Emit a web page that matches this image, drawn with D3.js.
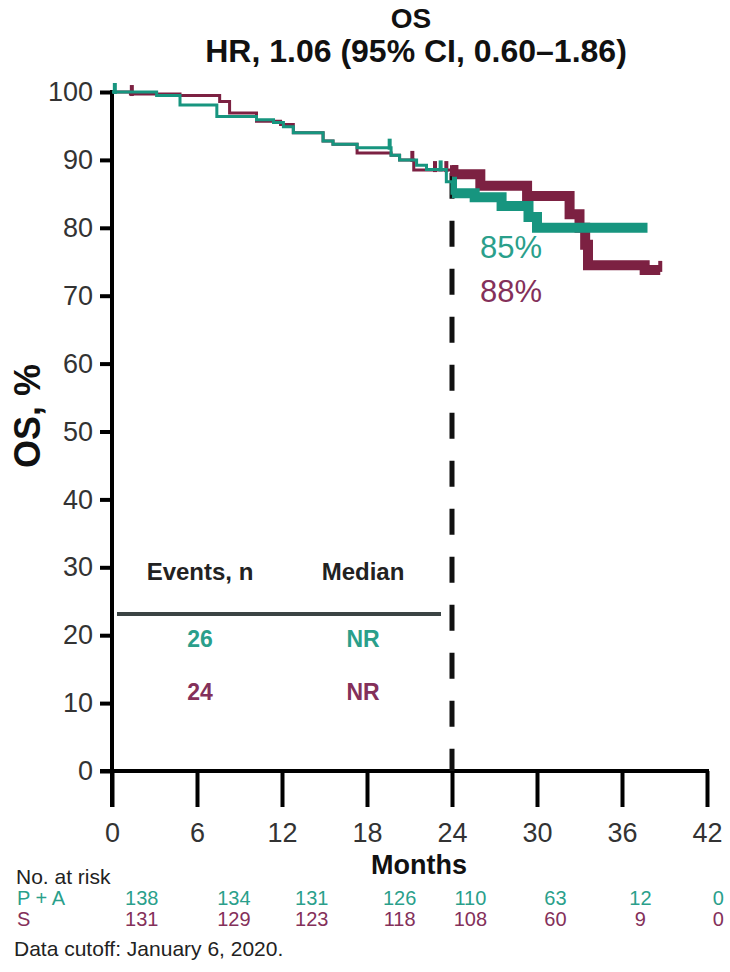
<!DOCTYPE html>
<html>
<head>
<meta charset="utf-8">
<script src="https://cdn.jsdelivr.net/npm/d3@7"></script>
<style>
  body { margin: 0; background: #fff; }
  svg { font-family: "Liberation Sans", Arial, sans-serif; display: block; }
</style>
</head>
<body>
<script>
// OS Kaplan-Meier, P + A vs S

const monthTicks = [0, 6, 12, 18, 24, 30, 36, 42];
const pctTicks = [0, 10, 20, 30, 40, 50, 60, 70, 80, 90, 100];

// step points: [month, OS %] (value holds from that month on)
const survPA = [
  [0, 100], [3.15, 99.5], [4.8, 98.1], [7.4, 96.4], [10.2, 95.9], [11.4, 95.5],
  [12.1, 94.9], [12.8, 94.0], [14.9, 92.8], [15.6, 92.3], [17.3, 91.8],
  [19.7, 90.7], [20.3, 90.0], [21.5, 89.2], [22.2, 88.6], [23.6, 86.8],
  [24.0, 85.1], [25.6, 84.5], [27.5, 83.2], [29.4, 81.6], [30.0, 80.0], [37.8, 80.0]
];
const survS = [
  [0, 100], [1.3, 99.7], [4.8, 99.5], [7.6, 98.6], [8.3, 96.9], [10.2, 95.7],
  [11.9, 95.2], [12.8, 94.0], [14.9, 92.8], [15.6, 92.3], [17.3, 91.0],
  [19.7, 90.7], [20.3, 90.0], [21.3, 88.5], [24.1, 87.9], [26.0, 86.2],
  [29.3, 84.7], [32.3, 82.0], [33.0, 80.0], [33.4, 77.5], [33.6, 74.5],
  [37.6, 73.8], [38.7, 73.8]
];
const censorPA = [[0.2, 100], [19.6, 91.8], [23.2, 88.6]];
const censorS = [[1.4, 99.7], [21.2, 90.0], [22.8, 88.5], [23.6, 88.5], [24.0, 87.9], [38.7, 73.8]];

const landmark = 24;
const landmarkLabels = ["85%", "88%"];

const tableHeads = ["Events, n", "Median"];
const tableRows = [["26", "NR"], ["24", "NR"]];

const armNames = ["P + A", "S"];
const riskPA = [138, 134, 131, 126, 110, 63, 12, 0];
const riskS = [131, 129, 123, 118, 108, 60, 9, 0];

const TEAL = "#17957f", MAROON = "#7c2142";
const TEAL_TXT = "#2a9f8b", MAROON_TXT = "#84305a";

const W = 730, H = 972;
const svg = d3.select("body").append("svg").attr("width", W).attr("height", H);

const x = d3.scaleLinear().domain([0, 42]).range([112, 707]);
const y = d3.scaleLinear().domain([0, 100]).range([771, 92]);

// titles
svg.append("text").attr("x", 411).attr("y", 28).attr("text-anchor", "middle")
  .attr("font-size", 28).attr("font-weight", "bold").attr("fill", "#111").text("OS");
svg.append("text").attr("x", 416).attr("y", 62).attr("text-anchor", "middle")
  .attr("font-size", 32).attr("font-weight", "bold").attr("fill", "#111")
  .text("HR, 1.06 (95% CI, 0.60\u20131.86)");

// y axis label
svg.append("text").attr("transform", "translate(40,416) rotate(-90)")
  .attr("text-anchor", "middle").attr("font-size", 36).attr("font-weight", "bold")
  .attr("fill", "#111").text("OS, %");

// axes
const yAxis = svg.append("g").attr("transform", `translate(${x(0)},0)`)
  .call(d3.axisLeft(y).tickValues(pctTicks).tickSize(12).tickPadding(7).tickSizeOuter(0));
const xAxis = svg.append("g").attr("transform", `translate(0,${y(0)})`)
  .call(d3.axisBottom(x).tickValues(monthTicks).tickSize(36).tickPadding(16).tickSizeOuter(0));
[yAxis, xAxis].forEach(g => {
  g.select(".domain").remove();
  g.selectAll(".tick line").attr("stroke", "#000").attr("stroke-width", 4);
  g.selectAll(".tick text").attr("fill", "#333").attr("font-size", 27).attr("font-family", null);
});
svg.append("line").attr("x1", x(0)).attr("x2", x(0)).attr("y1", y(100) - 2).attr("y2", y(0) + 36)
  .attr("stroke", "#000").attr("stroke-width", 4);
svg.append("line").attr("x1", x(0) - 12).attr("x2", x(42) + 2).attr("y1", y(0)).attr("y2", y(0))
  .attr("stroke", "#000").attr("stroke-width", 4);

svg.append("text").attr("x", 419).attr("y", 874).attr("text-anchor", "middle")
  .attr("font-size", 27).attr("font-weight", "bold").attr("fill", "#111").text("Months");

// landmark dashed line
svg.append("line").attr("x1", x(landmark)).attr("x2", x(landmark))
  .attr("y1", y(88.1)).attr("y2", y(0))
  .attr("stroke", "#111").attr("stroke-width", 5).attr("stroke-dasharray", "26,22");

// curves: thin before 24 months, heavy after
const defs = svg.append("defs");
defs.append("clipPath").attr("id", "pre").append("rect")
  .attr("x", 0).attr("y", 0).attr("width", x(landmark)).attr("height", H);
defs.append("clipPath").attr("id", "post").append("rect")
  .attr("x", x(landmark)).attr("y", 0).attr("width", W).attr("height", H);

const line = d3.line().x(d => x(d[0])).y(d => y(d[1])).curve(d3.curveStepAfter);

[[survS, censorS, MAROON], [survPA, censorPA, TEAL]].forEach(([data, cens, col]) => {
  svg.append("path").attr("d", line(data)).attr("fill", "none").attr("stroke", col)
    .attr("stroke-width", 3).attr("clip-path", "url(#pre)");
  svg.append("path").attr("d", line(data)).attr("fill", "none").attr("stroke", col)
    .attr("stroke-width", 10).attr("clip-path", "url(#post)");
  svg.selectAll(null).data(cens).enter().append("line")
    .attr("x1", d => x(d[0])).attr("x2", d => x(d[0]))
    .attr("y1", d => y(d[1]) - 9).attr("y2", d => y(d[1]) + 2)
    .attr("stroke", col).attr("stroke-width", 4);
});

// landmark rates
svg.selectAll(".lm").data(landmarkLabels).enter().append("text")
  .attr("x", 480).attr("y", (d, i) => 258 + i * 44)
  .attr("font-size", 31).attr("fill", (d, i) => i ? MAROON_TXT : TEAL_TXT).text(d => d);

// events table
const colX = [200, 363];
svg.selectAll(".th").data(tableHeads).enter().append("text")
  .attr("x", (d, i) => colX[i]).attr("y", 580).attr("text-anchor", "middle")
  .attr("font-size", 24).attr("font-weight", "bold").attr("fill", "#222").text(d => d);
svg.append("line").attr("x1", x(0) + 5).attr("x2", 441).attr("y1", 614).attr("y2", 614)
  .attr("stroke", "#3b4444").attr("stroke-width", 4);
tableRows.forEach((row, r) => {
  svg.selectAll(null).data(row).enter().append("text")
    .attr("x", (d, i) => colX[i]).attr("y", 647 + r * 53).attr("text-anchor", "middle")
    .attr("font-size", 23).attr("font-weight", "bold")
    .attr("fill", r ? MAROON_TXT : TEAL_TXT).text(d => d);
});

// number at risk
const riskPos = [2.1, 8.6, 14.1, 20.3, 25.3, 31.3, 37.3, 42.8];
svg.append("text").attr("x", 16).attr("y", 884).attr("font-size", 21).attr("fill", "#222")
  .text("No. at risk");
[[riskPA, TEAL_TXT], [riskS, MAROON_TXT]].forEach(([vals, col], r) => {
  svg.append("text").attr("x", 17).attr("y", 905 + r * 21).attr("font-size", 20)
    .attr("fill", col).text(armNames[r]);
  svg.selectAll(null).data(vals).enter().append("text")
    .attr("x", (d, i) => x(riskPos[i])).attr("y", 905 + r * 21)
    .attr("text-anchor", "middle").attr("font-size", 20).attr("fill", col).text(d => d);
});
svg.append("text").attr("x", 14).attr("y", 956).attr("font-size", 21).attr("fill", "#222")
  .text("Data cutoff: January 6, 2020.");
</script>
</body>
</html>
